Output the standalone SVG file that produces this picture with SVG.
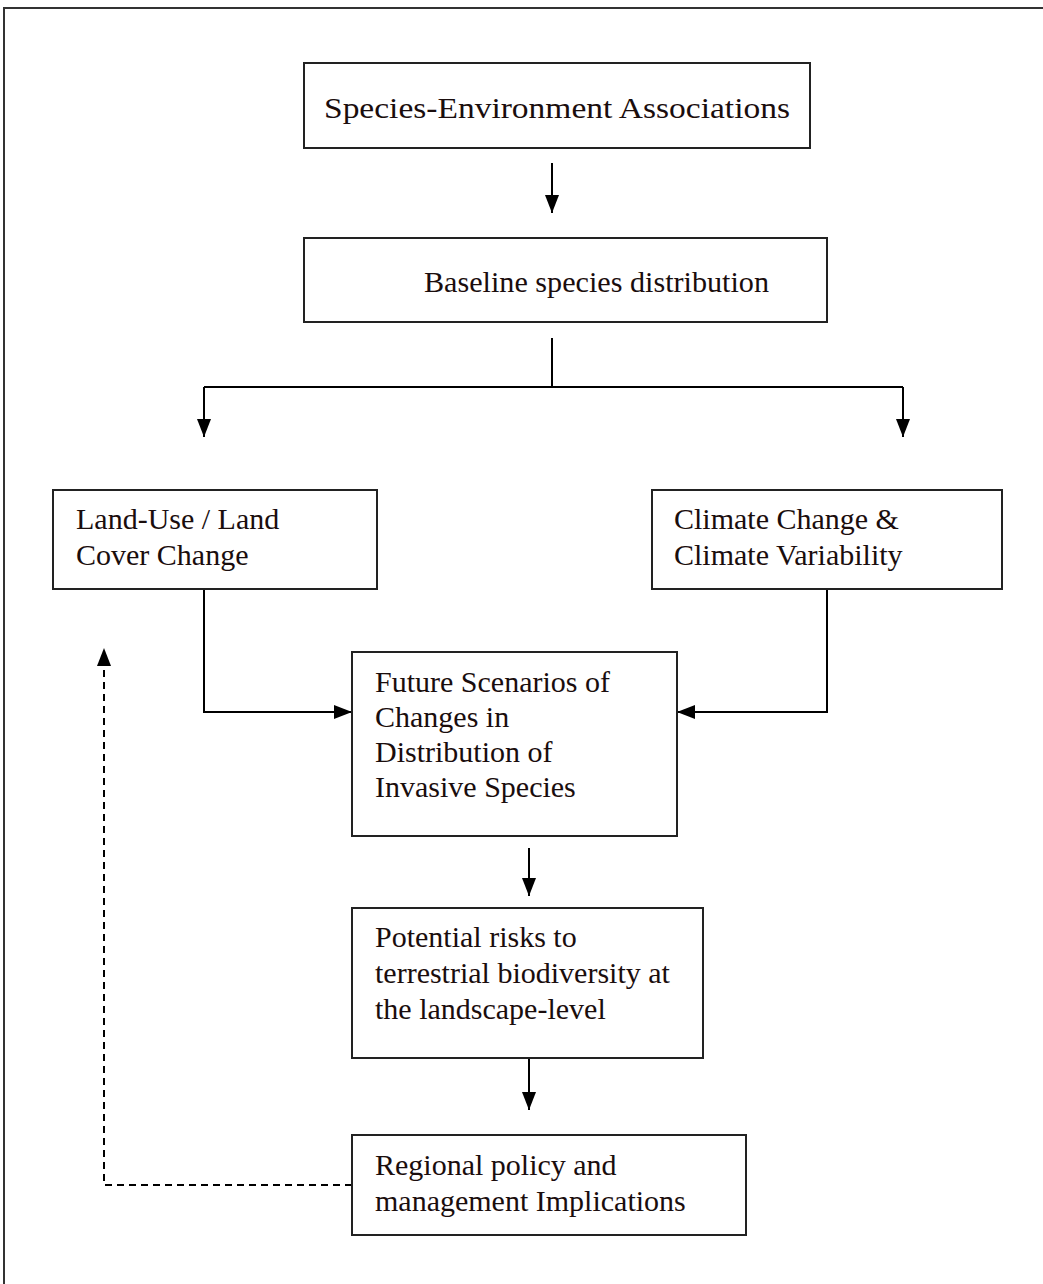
<svg xmlns="http://www.w3.org/2000/svg" width="1043" height="1284" viewBox="0 0 1043 1284">
<style>
.box{fill:#fff;stroke:#222;stroke-width:2}
.t{font-family:"Liberation Serif","Times New Roman",serif;font-size:30px;fill:#1a0d0d}
.c{fill:none;stroke:#000;stroke-width:2}
.d{fill:none;stroke:#000;stroke-width:2;stroke-dasharray:7,5}
</style>
<defs>
<marker id="ah2" markerWidth="18" markerHeight="18" refX="18" refY="9" orient="auto" markerUnits="userSpaceOnUse" viewBox="0 0 18 18">
<path d="M0,2 L18,9 L0,16 z" fill="#000"/>
</marker>
</defs>
<rect x="0" y="0" width="1043" height="1284" fill="#fff"/>
<g id="frame">
<path d="M4,1284 L4,8 L1043,8" fill="none" stroke="#333" stroke-width="2"/>
</g>
<g id="connectors">
<path class="c" d="M552,163 L552,213" marker-end="url(#ah2)"/>
<path class="c" d="M552,338 L552,388"/>
<path class="c" d="M204,387 L903,387"/>
<path class="c" d="M204,387 L204,437" marker-end="url(#ah2)"/>
<path class="c" d="M903,387 L903,437" marker-end="url(#ah2)"/>
<path class="c" d="M204,589 L204,712 L352,712" marker-end="url(#ah2)"/>
<path class="c" d="M827,589 L827,712 L677,712" marker-end="url(#ah2)"/>
<path class="c" d="M529,848 L529,896" marker-end="url(#ah2)"/>
<path class="c" d="M529,1058 L529,1110" marker-end="url(#ah2)"/>
<path class="d" d="M352,1185 L104,1185 L104,664"/>
<path d="M97,666 L104,648 L111,666 z" fill="#000"/>
</g>
<g id="n1">
<rect class="box" x="304" y="63" width="506" height="85"/>
<text class="t" x="324" y="118" font-size="33" textLength="466" lengthAdjust="spacingAndGlyphs">Species-Environment Associations</text>
</g>
<g id="n2">
<rect class="box" x="304" y="238" width="523" height="84"/>
<text class="t" x="424" y="292" textLength="345" lengthAdjust="spacingAndGlyphs">Baseline species distribution</text>
</g>
<g id="n3">
<rect class="box" x="53" y="490" width="324" height="99"/>
<text class="t" x="76" y="529">Land-Use / Land</text>
<text class="t" x="76" y="565">Cover Change</text>
</g>
<g id="n4">
<rect class="box" x="652" y="490" width="350" height="99"/>
<text class="t" x="674" y="529">Climate Change &amp;</text>
<text class="t" x="674" y="565">Climate Variability</text>
</g>
<g id="n5">
<rect class="box" x="352" y="652" width="325" height="184"/>
<text class="t" x="375" y="692">Future Scenarios of</text>
<text class="t" x="375" y="727">Changes in</text>
<text class="t" x="375" y="762">Distribution of</text>
<text class="t" x="375" y="797">Invasive Species</text>
</g>
<g id="n6">
<rect class="box" x="352" y="908" width="351" height="150"/>
<text class="t" x="375" y="947">Potential risks to</text>
<text class="t" x="375" y="983">terrestrial biodiversity at</text>
<text class="t" x="375" y="1019">the landscape-level</text>
</g>
<g id="n7">
<rect class="box" x="352" y="1135" width="394" height="100"/>
<text class="t" x="375" y="1175">Regional policy and</text>
<text class="t" x="375" y="1211">management Implications</text>
</g>
</svg>
